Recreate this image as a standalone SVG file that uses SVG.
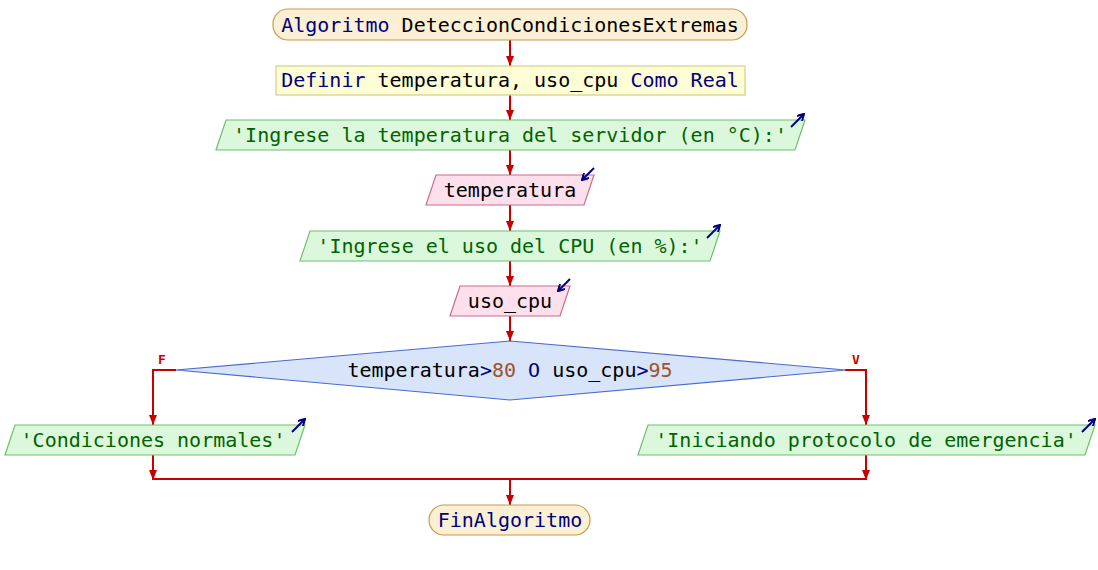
<svg xmlns="http://www.w3.org/2000/svg" width="1098" height="570" viewBox="0 0 1098 570">
<style>
text{font-family:"DejaVu Sans Mono","Liberation Mono",monospace;font-size:20px;dominant-baseline:central;text-anchor:middle}
.term{fill:#fcf0d4;stroke:#c9984e;stroke-width:1.2}
.def{fill:#fdfdd6;stroke:#d6cf86;stroke-width:1.2}
.out{fill:#dcf8dc;stroke:#6cc06c;stroke-width:1.2}
.in{fill:#fde0ec;stroke:#c86c92;stroke-width:1.2}
.dec{fill:#d8e4fa;stroke:#4a6acc;stroke-width:1.2}
.kw{fill:#000080}.id{fill:#000}.str{fill:#006400}.num{fill:#a0522d}
.flow{fill:none;stroke:#c80000;stroke-width:2}
.ind{fill:none;stroke:#000080;stroke-width:2}
.lbl{fill:#c80000;font-size:13px;font-weight:bold}
</style>
<defs>
<marker id="ah" markerWidth="10" markerHeight="8" refX="10" refY="4" orient="auto" markerUnits="userSpaceOnUse">
<path d="M0,0 L10,4 L0,8 Z" fill="#c80000"/>
</marker>
<marker id="ih" markerWidth="8" markerHeight="8" refX="7" refY="4" orient="auto" markerUnits="userSpaceOnUse">
<path d="M0,0 L7,4 L0,8" fill="none" stroke="#000080" stroke-width="2"/>
</marker>
</defs>
<g id="connectors">
<line class="flow" x1="510" y1="40" x2="510" y2="66" marker-end="url(#ah)"/>
<line class="flow" x1="510" y1="95" x2="510" y2="120" marker-end="url(#ah)"/>
<line class="flow" x1="510" y1="150" x2="510" y2="175" marker-end="url(#ah)"/>
<line class="flow" x1="510" y1="205" x2="510" y2="231" marker-end="url(#ah)"/>
<line class="flow" x1="510" y1="261" x2="510" y2="286" marker-end="url(#ah)"/>
<line class="flow" x1="510" y1="316" x2="510" y2="341" marker-end="url(#ah)"/>
<polyline class="flow" points="176,370 153,370 153,425" marker-end="url(#ah)"/>
<polyline class="flow" points="845,370 866,370 866,425" marker-end="url(#ah)"/>
<line class="flow" x1="153" y1="455" x2="153" y2="480" marker-end="url(#ah)"/>
<line class="flow" x1="866" y1="455" x2="866" y2="480" marker-end="url(#ah)"/>
<line class="flow" x1="152" y1="479" x2="867" y2="479"/>
<line class="flow" x1="510" y1="479" x2="510" y2="505" marker-end="url(#ah)"/>
<text class="lbl" x="162" y="359">F</text>
<text class="lbl" x="856" y="359">V</text>
</g>
<g id="start">
<rect class="term" x="273" y="9" width="474" height="31" rx="15" ry="15"/>
<text x="510" y="25"><tspan class="kw">Algoritmo</tspan><tspan class="id"> DeteccionCondicionesExtremas</tspan></text>
</g>
<g id="definir">
<rect class="def" x="276" y="66" width="469" height="29"/>
<text x="510" y="80"><tspan class="kw">Definir</tspan><tspan class="id"> temperatura, uso_cpu </tspan><tspan class="kw">Como Real</tspan></text>
</g>
<g id="out1">
<polygon class="out" points="226,120 805,120 795,150 216,150"/>
<text class="str" x="510" y="135">'Ingrese la temperatura del servidor (en °C):'</text>
<line class="ind" x1="791" y1="127" x2="804" y2="114" marker-end="url(#ih)"/>
</g>
<g id="in1">
<polygon class="in" points="436,175 594,175 584,205 426,205"/>
<text class="id" x="510" y="190">temperatura</text>
<line class="ind" x1="594" y1="168" x2="582" y2="180" marker-end="url(#ih)"/>
</g>
<g id="out2">
<polygon class="out" points="310,231 720,231 710,261 300,261"/>
<text class="str" x="510" y="246">'Ingrese el uso del CPU (en %):'</text>
<line class="ind" x1="707" y1="238" x2="720" y2="225" marker-end="url(#ih)"/>
</g>
<g id="in2">
<polygon class="in" points="460,286 570,286 560,316 450,316"/>
<text class="id" x="510" y="301">uso_cpu</text>
<line class="ind" x1="570" y1="279" x2="558" y2="291" marker-end="url(#ih)"/>
</g>
<g id="decision">
<polygon class="dec" points="510,341 846,370 510,400 176,370"/>
<text x="510" y="370"><tspan class="id">temperatura</tspan><tspan class="kw">&gt;</tspan><tspan class="num">80</tspan><tspan class="kw"> O </tspan><tspan class="id">uso_cpu</tspan><tspan class="kw">&gt;</tspan><tspan class="num">95</tspan></text>
</g>
<g id="outF">
<polygon class="out" points="15,425 305,425 295,455 5,455"/>
<text class="str" x="153" y="440">'Condiciones normales'</text>
<line class="ind" x1="292" y1="432" x2="305" y2="419" marker-end="url(#ih)"/>
</g>
<g id="outV">
<polygon class="out" points="648,425 1095,425 1085,455 638,455"/>
<text class="str" x="866" y="440">'Iniciando protocolo de emergencia'</text>
<line class="ind" x1="1082" y1="432" x2="1095" y2="419" marker-end="url(#ih)"/>
</g>
<g id="end">
<rect class="term" x="429" y="505" width="161" height="30" rx="15" ry="15"/>
<text class="kw" x="510" y="520">FinAlgoritmo</text>
</g>
</svg>
